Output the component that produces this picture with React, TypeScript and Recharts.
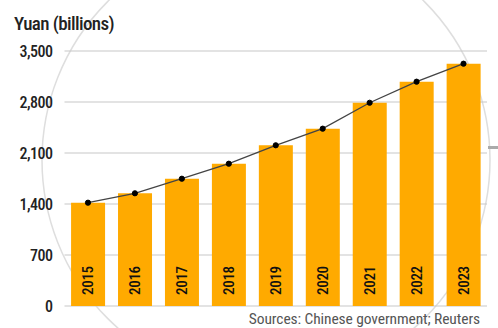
import React from "react";
import { ComposedChart, Bar, Line, XAxis, YAxis, CartesianGrid, LabelList } from "recharts";

const years = ["2015", "2016", "2017", "2018", "2019", "2020", "2021", "2022", "2023"];
const values = [1418, 1547, 1747, 1953, 2206, 2434, 2790, 3079, 3326];
const yTicks = [0, 700, 1400, 2100, 2800, 3500];

const data = years.map((y, i) => ({ year: y, value: values[i] }));

const FONT = "'Roboto Condensed', 'Roboto', sans-serif";

const YearLabel = (props: any) => {
  const { x, y, width, height, value } = props;
  const cx = x + width / 2;
  const by = y + height - 11;
  return (
    <text
      x={cx}
      y={by}
      transform={`rotate(-90 ${cx} ${by})`}
      textAnchor="start"
      dominantBaseline="central"
      fontSize={15}
      fontWeight={500}
      fontFamily={FONT}
      letterSpacing={-0.3}
      fill="#111"
    >
      {value}
    </text>
  );
};

export default function App() {
  return (
    <div style={{ position: "absolute", left: 0, top: 0, width: 498, height: 328, background: "#fff", overflow: "hidden" }}>
      <svg width={498} height={328} style={{ position: "absolute", left: 0, top: 0 }}>
        <circle cx={266} cy={160} r={224} fill="none" stroke="#dedede" strokeWidth={1.5} />
        <rect x={488} y={146} width={10} height={3} fill="#aaa" />
      </svg>
      <div style={{ position: "absolute", left: 14, top: 13, fontFamily: FONT, fontSize: 19, fontWeight: 500, letterSpacing: -0.6, color: "#222", whiteSpace: "nowrap", lineHeight: "22px" }}>
        Yuan (billions)
      </div>
      <div style={{ position: "absolute", left: 0, top: 0 }}>
        <ComposedChart width={498} height={328} data={data} margin={{ top: 51, right: 11, bottom: 22, left: 0 }} barCategoryGap="14%">
          <CartesianGrid vertical={false} stroke="#c8c8c8" strokeWidth={1.2} />
          <XAxis dataKey="year" hide />
          <YAxis
            width={64.5}
            domain={[0, 3500]}
            ticks={yTicks}
            axisLine={false}
            tickLine={false}
            tickSize={0}
            tickMargin={12}
            tickFormatter={(v: number) => v.toLocaleString("en-US")}
            tick={{ fill: "#222", fontSize: 16, fontWeight: 500, letterSpacing: -0.5, fontFamily: FONT }}
          />
          <Bar dataKey="value" fill="#FFAA00" isAnimationActive={false}>
            <LabelList dataKey="year" content={YearLabel} />
          </Bar>
          <Line
            type="linear"
            dataKey="value"
            stroke="#444"
            strokeWidth={1.3}
            dot={{ r: 2.6, fill: "#000", stroke: "#000", strokeWidth: 1 }}
            isAnimationActive={false}
          />
        </ComposedChart>
      </div>
      <div style={{ position: "absolute", right: 18, top: 310, fontFamily: FONT, fontSize: 15.5, color: "#555", whiteSpace: "nowrap", letterSpacing: -0.1 }}>
        Sources: Chinese government; Reuters
      </div>
    </div>
  );
}
